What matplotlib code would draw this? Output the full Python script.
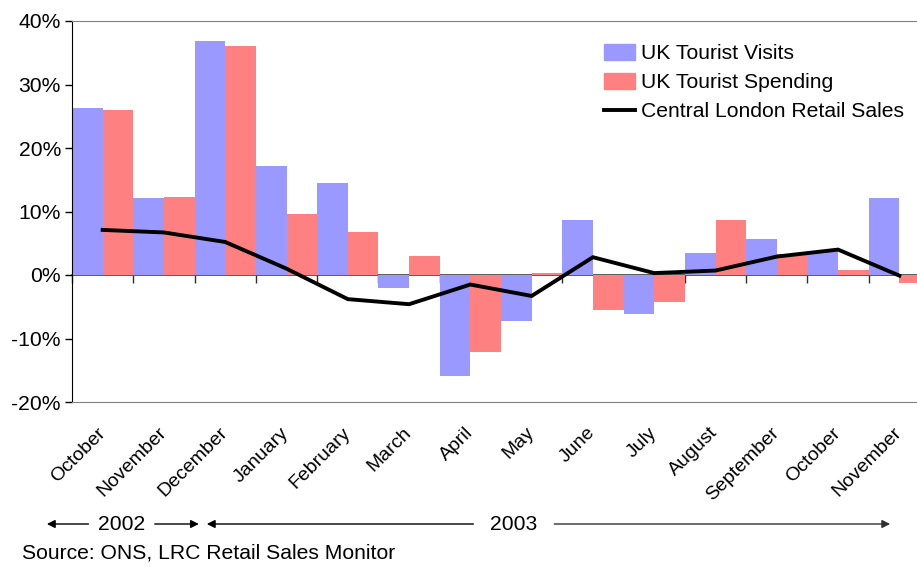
import numpy as np
import matplotlib.pyplot as plt
from matplotlib.patches import Patch
from matplotlib.lines import Line2D
import matplotlib.transforms as mtransforms

plt.rcParams['font.family'] = ['Liberation Sans', 'DejaVu Sans']

months = ['October', 'November', 'December', 'January', 'February', 'March', 'April',
          'May', 'June', 'July', 'August', 'September', 'October', 'November']
visits = [26.3, 12.1, 36.9, 17.2, 14.5, -2.0, -15.9, -7.2, 8.7, -6.1, 3.5, 5.7, 3.8, 12.2]
spending = [26.0, 12.3, 36.1, 9.6, 6.7, 3.0, -12.2, 0.3, -5.5, -4.2, 8.6, 3.3, 0.8, -1.2]
retail = [7.1, 6.7, 5.2, 1.0, -3.8, -4.6, -1.5, -3.3, 2.8, 0.3, 0.7, 2.9, 4.0, -0.1]

blue = '#9999FF'
red = '#FF8080'
grey = '#808080'
fs = 15.2

fig = plt.figure(figsize=(9.17, 5.67), dpi=100)
# plot area runs past the right edge of the figure, so the last bar is cut
ax = fig.add_axes([72 / 917, 165 / 567, 858 / 917, 381 / 567])

n = len(months)
x = np.arange(n)
w = 0.5
ax.bar(x, visits, width=w, align='edge', color=blue, linewidth=0, zorder=2)
ax.bar(x + w, spending, width=w, align='edge', color=red, linewidth=0, zorder=2)
ax.plot(x + 0.5, retail, color='black', linewidth=2.8, solid_joinstyle='miter', zorder=4)

ax.set_xlim(0, n)
ax.set_ylim(-20, 40)
ax.set_yticks(np.arange(-20, 41, 10))
ax.set_yticklabels([f'{v}%' for v in range(-20, 41, 10)], fontsize=fs)
ax.tick_params(axis='y', direction='out', length=5, width=1, pad=3)

# month names under the plot area
ax.set_xticks(x + 0.5)
ax.set_xticklabels(months, rotation=45, ha='right', rotation_mode='anchor', fontsize=14)
ax.tick_params(axis='x', length=0, pad=16)
shift = mtransforms.ScaledTranslation(-0.06, 0, fig.dpi_scale_trans)
for lbl in ax.get_xticklabels():
    lbl.set_transform(lbl.get_transform() + shift)

for side in ['top', 'bottom', 'right']:
    ax.spines[side].set_color(grey)
ax.spines['left'].set_color('black')

# category axis crossing at zero, ticks between months
zero = ax.secondary_xaxis(1 / 3)
zero.set_xticks(np.arange(0, n + 1))
zero.set_xticklabels([])
zero.tick_params(axis='x', direction='out', length=6, width=1, color='#303030')
zero.spines['bottom'].set_color('#404040')
zero.spines['bottom'].set_linewidth(1.2)

handles = [Patch(color=blue, label='UK Tourist Visits'),
           Patch(color=red, label='UK Tourist Spending'),
           Line2D([], [], color='black', linewidth=2.8, label='Central London Retail Sales')]
fig.legend(handles=handles, loc='upper left', bbox_to_anchor=(604 / 917, 1 - 44 / 567),
           frameon=False, fontsize=fs, handlelength=1.45, handleheight=0.8,
           handletextpad=0.3, labelspacing=0.45, borderaxespad=0, borderpad=0)

# year spans below the months
trans = mtransforms.blended_transform_factory(ax.transData, fig.transFigure)
ya = 1 - 524 / 567
arrow = dict(arrowstyle='-|>', color='black', lw=1, mutation_scale=12, shrinkA=0, shrinkB=0)
ax.annotate('', xy=(-0.41, ya), xytext=(0.27, ya), xycoords=trans, textcoords=trans,
            arrowprops=arrow, annotation_clip=False)
ax.annotate('', xy=(2.07, ya), xytext=(1.35, ya), xycoords=trans, textcoords=trans,
            arrowprops=arrow, annotation_clip=False)
ax.annotate('', xy=(2.2, ya), xytext=(6.55, ya), xycoords=trans, textcoords=trans,
            arrowprops=arrow, annotation_clip=False)
ax.annotate('', xy=(13.35, ya), xytext=(7.87, ya), xycoords=trans, textcoords=trans,
            arrowprops=dict(arrow, color='#303030'), annotation_clip=False)
ax.text(0.81, ya, '2002', transform=trans, ha='center', va='center', fontsize=fs)
ax.text(7.21, ya, '2003', transform=trans, ha='center', va='center', fontsize=fs)

fig.text(22 / 917, 1 - 553 / 567, 'Source: ONS, LRC Retail Sales Monitor',
         ha='left', va='center', fontsize=fs)

fig.savefig('out.png', dpi=100)
